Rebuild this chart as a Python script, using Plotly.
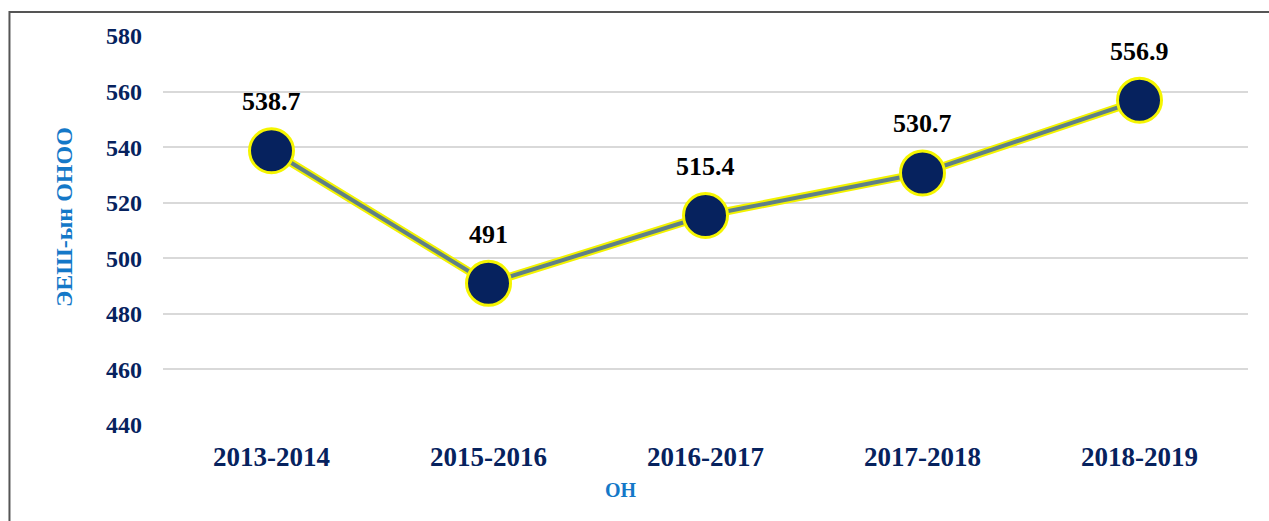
import plotly.graph_objects as go

years = ["2013-2014", "2015-2016", "2016-2017", "2017-2018", "2018-2019"]
scores = [538.7, 491, 515.4, 530.7, 556.9]
labels = ["538.7", "491", "515.4", "530.7", "556.9"]
y_ticks = [440, 460, 480, 500, 520, 540, 560, 580]

NAVY = "#06225e"
FONT = "Liberation Serif"

fig = go.Figure()
# yellow glow under the line
fig.add_trace(go.Scatter(
    x=years, y=scores, mode="lines",
    line=dict(color="#f2f200", width=8),
    hoverinfo="skip", showlegend=False))
# main line with markers
fig.add_trace(go.Scatter(
    x=years, y=scores, mode="lines+markers",
    line=dict(color="#5f8087", width=4),
    marker=dict(size=44, color=NAVY, line=dict(color="#f5f500", width=3)),
    showlegend=False))

annotations = [
    dict(x=yr, y=v, text=t, showarrow=False, xanchor="center", yanchor="middle",
         yshift=49, font=dict(family=FONT, size=26, color="#000000", weight="bold"))
    for yr, v, t in zip(years, scores, labels)
]
annotations += [
    dict(text="ЭЕШ-ын ОНОО", xref="paper", yref="paper",
         x=(64 - 163) / 1085, y=(425 - 217) / 389, textangle=-90,
         showarrow=False, xanchor="center", yanchor="middle",
         font=dict(family=FONT, size=24, color="#1478c8", weight="bold")),
    dict(text="ОН", xref="paper", yref="paper",
         x=(621 - 163) / 1085, y=(425 - 490) / 389,
         showarrow=False, xanchor="center", yanchor="middle",
         font=dict(family=FONT, size=20, color="#1478c8", weight="bold")),
]

fig.update_layout(
    width=1269, height=521,
    margin=dict(l=163, r=21, t=36, b=96),
    paper_bgcolor="white", plot_bgcolor="white",
    font=dict(family=FONT),
    xaxis=dict(
        type="category", range=[-0.5, 4.5],
        showgrid=False, showline=False, zeroline=False, ticks="",
        tickfont=dict(family=FONT, size=27, color=NAVY, weight="bold"),
        ticklabelstandoff=13,
    ),
    yaxis=dict(
        range=[440, 580], tickvals=y_ticks,
        showgrid=True, gridcolor="#d9d9d9", gridwidth=2,
        showline=False, zeroline=False, ticks="",
        tickfont=dict(family=FONT, size=24, color=NAVY, weight="bold"),
        ticklabelstandoff=20,
    ),
    shapes=[dict(type="rect", xref="paper", yref="paper",
                 x0=-0.1415, x1=1.05, y0=-0.3, y1=1.0617,
                 line=dict(color="#555555", width=2), layer="below")],
    annotations=annotations,
)

fig.write_html("out.html", config={"displayModeBar": False},
               post_script="document.body.style.margin='0';")
